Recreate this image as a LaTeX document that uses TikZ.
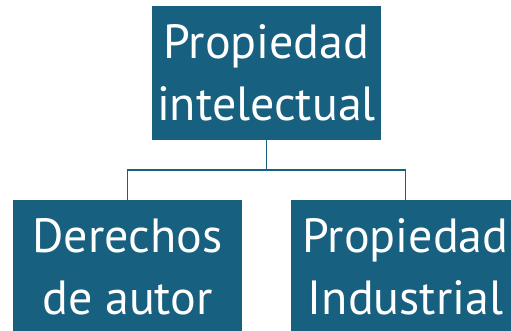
\documentclass[tikz,border=0pt]{standalone}
\usepackage{fontspec}
\setmainfont{PT Sans}
\definecolor{azulpi}{HTML}{17607F}
\tikzset{
  caja/.style={fill=azulpi, text=white, minimum width=171.75pt, minimum height=100.5pt, inner sep=0pt,
    align=center, font=\fontsize{36}{46.5}\selectfont},
  rama/.style={draw=azulpi, line width=1.2pt}
}
\begin{document}
\begin{tikzpicture}[x=0.75pt,y=0.75pt,yscale=-1,xscale=1]
%set diagram left start at 0, and has height of 331
\useasboundingbox (0,0) rectangle (511,331);

%Shape: Rectangle [id:pi]
\node [caja] (pi) at (266.5,73) {Propiedad\\intelectual};
%Shape: Rectangle [id:da]
\node [caja] (da) at (127.5,267) {Derechos\\de autor};
%Shape: Rectangle [id:ind]
\node [caja] (ind) at (405.5,267) {Propiedad\\Industrial};

%Straight Lines [id:cruce]
\coordinate (cruce) at (266.5,170);
\draw [rama] (pi.south) -- (cruce) ;
\draw [rama] (cruce) -| (da.north) ;
\draw [rama] (cruce) -| (ind.north) ;

\end{tikzpicture}
\end{document}
